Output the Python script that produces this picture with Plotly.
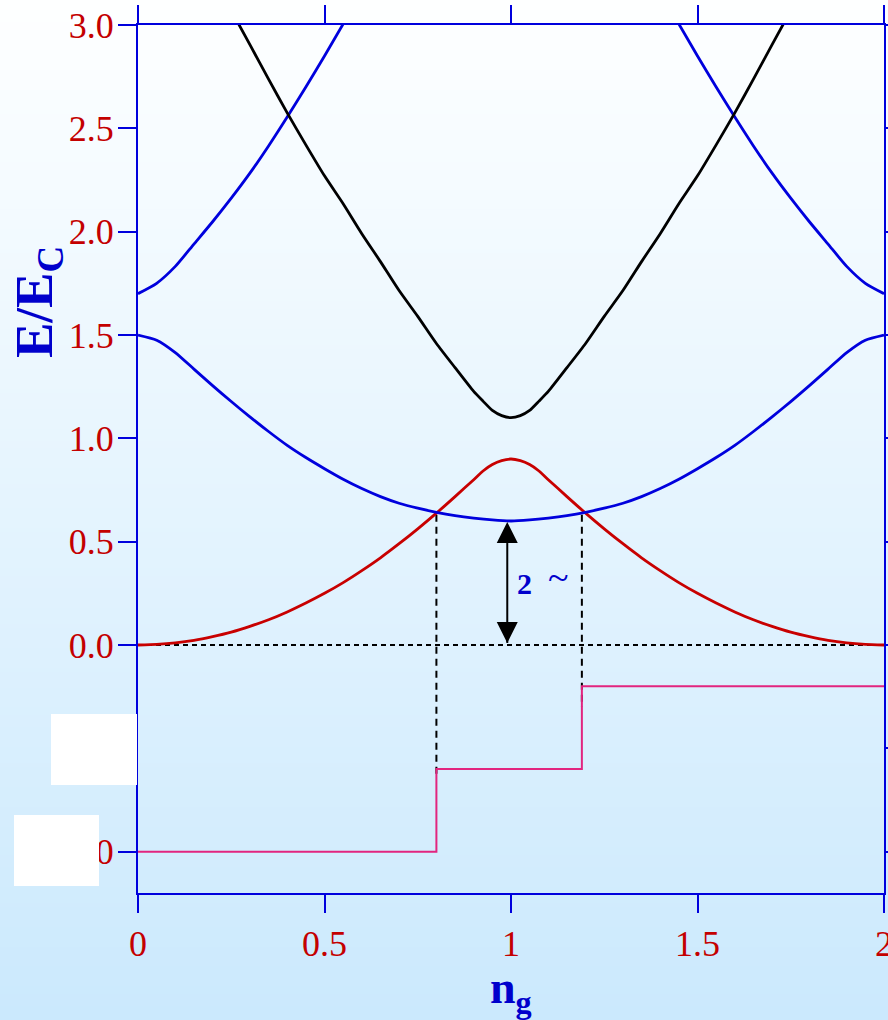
import base64
import struct
import zlib

import plotly.graph_objects as go

# ---------------------------------------------------------------- data
# Gate charge n_g and reduced energies E/E_C of the lowest levels.
n_ground = [0.0, 0.05, 0.10, 0.15, 0.20, 0.25, 0.30, 0.35, 0.40, 0.45,
            0.50, 0.55, 0.60, 0.65, 0.70, 0.75, 0.80, 0.85, 0.90, 0.925,
            0.95, 0.975, 1.0, 1.025, 1.05, 1.075, 1.10, 1.15, 1.20, 1.25,
            1.30, 1.35, 1.40, 1.45, 1.50, 1.55, 1.60, 1.65, 1.70, 1.75,
            1.80, 1.85, 1.90, 1.95, 2.0]
e_ground = [0.0, 0.003, 0.010, 0.022, 0.040, 0.062, 0.090, 0.122, 0.160, 0.203,
            0.250, 0.302, 0.360, 0.422, 0.490, 0.562, 0.638, 0.718, 0.800, 0.842,
            0.873, 0.892, 0.900, 0.892, 0.873, 0.842, 0.800, 0.718, 0.638, 0.562,
            0.490, 0.422, 0.360, 0.302, 0.250, 0.203, 0.160, 0.122, 0.090, 0.062,
            0.040, 0.022, 0.010, 0.003, 0.0]

n_first = [0.0, 0.05, 0.10, 0.15, 0.20, 0.25, 0.30, 0.35, 0.40, 0.45,
           0.50, 0.55, 0.60, 0.65, 0.70, 0.75, 0.80, 0.85, 0.90, 0.95,
           1.0, 1.05, 1.10, 1.15, 1.20, 1.25, 1.30, 1.35, 1.40, 1.45,
           1.50, 1.55, 1.60, 1.65, 1.70, 1.75, 1.80, 1.85, 1.90, 1.95, 2.0]
e_first = [1.500, 1.475, 1.415, 1.335, 1.255, 1.178, 1.104, 1.033, 0.966, 0.907,
           0.853, 0.802, 0.757, 0.718, 0.686, 0.662, 0.642, 0.626, 0.614, 0.605,
           0.600, 0.605, 0.614, 0.626, 0.642, 0.662, 0.686, 0.718, 0.757, 0.802,
           0.853, 0.907, 0.966, 1.033, 1.104, 1.178, 1.255, 1.335, 1.415, 1.475,
           1.500]

n_upper_left = [0.0, 0.05, 0.10, 0.15, 0.20, 0.25, 0.30, 0.35, 0.40, 0.45, 0.50, 0.55]
e_upper_left = [1.700, 1.750, 1.832, 1.940, 2.048, 2.162, 2.283, 2.415, 2.555, 2.700, 2.850, 3.005]
n_upper_right = [1.45, 1.50, 1.55, 1.60, 1.65, 1.70, 1.75, 1.80, 1.85, 1.90, 1.95, 2.0]
e_upper_right = [3.005, 2.850, 2.700, 2.555, 2.415, 2.283, 2.162, 2.048, 1.940, 1.832, 1.750, 1.700]

n_second = [0.25, 0.30, 0.35, 0.40, 0.45, 0.50, 0.55, 0.60, 0.65, 0.70,
            0.75, 0.80, 0.85, 0.90, 0.925, 0.95, 0.975, 1.0, 1.025, 1.05,
            1.075, 1.10, 1.15, 1.20, 1.25, 1.30, 1.35, 1.40, 1.45, 1.50,
            1.55, 1.60, 1.65, 1.70, 1.75]
e_second = [3.070, 2.905, 2.738, 2.575, 2.420, 2.270, 2.135, 1.990, 1.855, 1.715,
            1.590, 1.459, 1.342, 1.227, 1.180, 1.135, 1.110, 1.100, 1.110, 1.135,
            1.180, 1.227, 1.342, 1.459, 1.590, 1.715, 1.855, 1.990, 2.135, 2.270,
            2.420, 2.575, 2.738, 2.905, 3.070]

# Staircase drawn below the levels (plotted in the same vertical units).
step_x = [0.0, 0.80, 1.19, 2.0]
step_y = [-1.0, -0.6, -0.2, -0.2]

# Level crossings and their drop lines
cross_x = [0.80, 1.19]
cross_top = [0.63, 0.63]
cross_bottom = [-0.63, -0.30]

# Gap arrow at n_g = 1
gap_x = 0.99
gap_low, gap_high = 0.01, 0.595

x_ticks = [0, 0.5, 1, 1.5, 2]
x_labels = ["0", "0.5", "1", "1.5", "2"]
y_ticks = [3.0, 2.5, 2.0, 1.5, 1.0, 0.5, 0.0, -1.0]
y_labels = ["3.0", "2.5", "2.0", "1.5", "1.0", "0.5", "0.0", "0"]
y_ticks_right = [3.0, 2.5, 2.0, 1.5, 1.0, 0.5, 0.0, -0.5, -1.0]

# ---------------------------------------------------------------- style
W, H = 888, 1020
ML, MR, MT, MB = 138, 4, 25, 127
PW, PH = W - ML - MR, H - MT - MB

AXIS_BLUE = "#0000dd"
LABEL_RED = "#c40000"
CURVE_RED = "#c80000"
CURVE_BLUE = "#0000dd"
TITLE_BLUE = "#0000cc"
PINK = "#e2257f"
SERIF = "Liberation Serif, Times New Roman, serif"
Y_RANGE = [-1.2, 3.0]


def px_x(px):
    return (px - ML) / PW


def px_y(py):
    return (H - MB - py) / PH


def gradient_png(top, bottom, rows=256):
    raw = b""
    for i in range(rows):
        t = i / (rows - 1)
        c = bytes(int(round(a + (b - a) * t)) for a, b in zip(top, bottom))
        raw += b"\x00" + c

    def chunk(tag, data):
        return (struct.pack(">I", len(data)) + tag + data
                + struct.pack(">I", zlib.crc32(tag + data) & 0xFFFFFFFF))

    png = b"\x89PNG\r\n\x1a\n"
    png += chunk(b"IHDR", struct.pack(">IIBBBBB", 1, rows, 8, 2, 0, 0, 0))
    png += chunk(b"IDAT", zlib.compress(raw))
    png += chunk(b"IEND", b"")
    return "data:image/png;base64," + base64.b64encode(png).decode()


def level(x, y, color):
    return go.Scatter(x=x, y=y, mode="lines",
                      line=dict(color=color, width=2.8, shape="spline", smoothing=0.6))


fig = go.Figure()

# reference lines
fig.add_trace(go.Scatter(x=[0, 2], y=[0, 0], mode="lines",
                         line=dict(color="black", width=2, dash="5px,4px")))
for cx, ct, cb in zip(cross_x, cross_top, cross_bottom):
    fig.add_trace(go.Scatter(x=[cx, cx], y=[ct, cb], mode="lines",
                             line=dict(color="black", width=2, dash="7px,5px")))

# staircase
fig.add_trace(go.Scatter(x=step_x, y=step_y, mode="lines", line_shape="hv",
                         line=dict(color=PINK, width=2)))

# energy levels
fig.add_trace(level(n_ground, e_ground, CURVE_RED))
fig.add_trace(level(n_first, e_first, CURVE_BLUE))
fig.add_trace(level(n_upper_left, e_upper_left, CURVE_BLUE))
fig.add_trace(level(n_upper_right, e_upper_right, CURVE_BLUE))
fig.add_trace(level(n_second, e_second, "black"))

# double-headed gap arrow
fig.add_trace(go.Scatter(x=[gap_x, gap_x], y=[gap_low, gap_high],
                         mode="lines+markers",
                         line=dict(color="black", width=2),
                         marker=dict(symbol=["arrow-down", "arrow-up"], size=21,
                                     color="black", line=dict(width=0))))

# axis ticks on the right-hand side (no labels)
fig.add_trace(go.Scatter(x=[None], y=[None], yaxis="y2", hoverinfo="skip"))

tick_style = dict(ticks="outside", ticklen=18, tickwidth=2, tickcolor=AXIS_BLUE,
                  showgrid=False, zeroline=False, automargin=False)

fig.update_layout(
    xaxis=dict(range=[0, 2], tickvals=x_ticks, ticktext=x_labels,
               showline=True, linecolor=AXIS_BLUE, linewidth=2,
               mirror="allticks", ticklabelstandoff=0,
               ticklabeloverflow="allow",
               tickfont=dict(family=SERIF, size=36, color=LABEL_RED),
               **tick_style),
    yaxis=dict(range=Y_RANGE, tickvals=y_ticks, ticktext=y_labels,
               showline=True, linecolor=AXIS_BLUE, linewidth=2,
               mirror=True, ticklabelstandoff=-3,
               ticklabeloverflow="allow",
               tickfont=dict(family=SERIF, size=36, color=LABEL_RED),
               **tick_style),
    yaxis2=dict(range=Y_RANGE, tickvals=y_ticks_right, overlaying="y",
                side="right", showline=False, showticklabels=False,
                **tick_style),
)

# gap label
fig.add_annotation(x=1.037, y=0.30, xref="x", yref="y", text="<b>2</b>",
                   showarrow=False,
                   font=dict(family=SERIF, size=30, color=TITLE_BLUE))
fig.add_annotation(x=1.128, y=0.33, xref="x", yref="y", text="~",
                   showarrow=False,
                   font=dict(family=SERIF, size=38, color=TITLE_BLUE))

# axis titles
fig.add_annotation(x=px_x(38), y=px_y(302), xref="paper", yref="paper",
                   text="<b>E/E<sub>C</sub></b>", textangle=-90,
                   showarrow=False, xanchor="center", yanchor="middle",
                   font=dict(family=SERIF, size=53, color=TITLE_BLUE))
fig.add_annotation(x=px_x(511), y=px_y(991), xref="paper", yref="paper",
                   text="<b>n<sub>g</sub></b>",
                   showarrow=False, xanchor="center", yanchor="middle",
                   font=dict(family=SERIF, size=46, color=TITLE_BLUE))

# blank label panels at the left edge
for x0, y0, x1, y1 in [(51, 714, 137, 785), (14, 815, 99, 886)]:
    fig.add_shape(type="rect", xref="paper", yref="paper",
                  x0=px_x(x0), x1=px_x(x1), y0=px_y(y1), y1=px_y(y0),
                  fillcolor="white", line=dict(width=0), layer="above")

# page background: white fading to pale blue
fig.add_layout_image(source=gradient_png((254, 255, 255), (203, 233, 253)),
                     xref="paper", yref="paper",
                     x=px_x(0), y=px_y(0), sizex=W / PW, sizey=H / PH,
                     xanchor="left", yanchor="top", sizing="stretch",
                     layer="below")

fig.update_layout(
    width=W, height=H, autosize=False,
    margin=dict(l=ML, r=MR, t=MT, b=MB, autoexpand=False),
    paper_bgcolor="white", plot_bgcolor="rgba(0,0,0,0)",
    showlegend=False,
)

fig.write_html("out.html")
